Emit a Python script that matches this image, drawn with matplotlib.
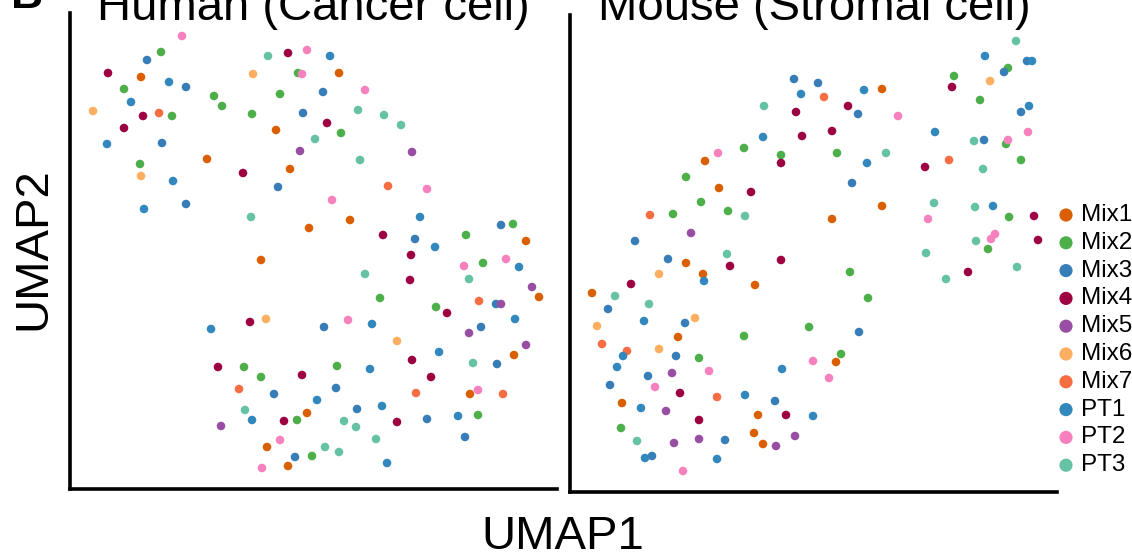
import matplotlib
matplotlib.use("Agg")
import matplotlib.pyplot as plt

plt.rcParams['font.family'] = ['Liberation Sans', 'DejaVu Sans']

groups = ["Mix1", "Mix2", "Mix3", "Mix4", "Mix5", "Mix6", "Mix7", "PT1", "PT2", "PT3"]
colors = ["#D95F02", "#4DAF4A", "#377EB8", "#9E0142", "#984EA3",
          "#FDAE61", "#F46D43", "#3288BD", "#F781BF", "#66C2A5"]

# UMAP embedding, human cancer cells (UMAP1, UMAP2)
human = {
    "Mix1": [(71, 412), (206, 359), (137, 330), (220, 320), (239, 261), (269, 416), (280, 269),
             (456, 248), (191, 229), (237, 76), (197, 42), (218, 23), (469, 192), (444, 134), (400, 95)],
    "Mix2": [(91, 437), (54, 400), (228, 416), (144, 393), (152, 383), (210, 395), (102, 373),
             (182, 375), (70, 325), (271, 356), (396, 254), (443, 265), (174, 122), (191, 112),
             (227, 69), (413, 226), (310, 191), (366, 182), (267, 123), (408, 74), (242, 33)],
    "Mix3": [(77, 429), (116, 402), (233, 376), (92, 346), (208, 302), (116, 285), (253, 397),
             (345, 250), (431, 264), (204, 95), (225, 32), (426, 185), (254, 162), (411, 162),
             (427, 125), (266, 101), (287, 80), (357, 70), (395, 52)],
    "Mix4": [(218, 436), (38, 416), (73, 373), (54, 361), (173, 316), (257, 366), (313, 254),
             (180, 167), (148, 122), (232, 114), (214, 68), (341, 234), (340, 209), (377, 176),
             (342, 129), (361, 112), (327, 67)],
    "Mix5": [(230, 338), (342, 337), (151, 63), (462, 202), (431, 185), (399, 156), (456, 144)],
    "Mix6": [(183, 415), (23, 378), (71, 313), (196, 170), (327, 148)],
    "Mix7": [(89, 376), (318, 303), (169, 100), (409, 188), (346, 96), (433, 95)],
    "PT1": [(99, 407), (61, 387), (37, 345), (103, 308), (74, 280), (260, 433), (350, 272),
            (365, 242), (141, 160), (182, 69), (449, 222), (445, 170), (302, 165), (369, 137),
            (300, 120), (247, 89), (312, 83), (388, 73), (317, 26)],
    "PT2": [(112, 453), (237, 439), (232, 415), (295, 399), (357, 300), (262, 289), (210, 49),
            (192, 21), (394, 223), (436, 230), (278, 169), (408, 99)],
    "PT3": [(198, 433), (181, 272), (288, 379), (314, 374), (331, 364), (245, 350), (290, 329),
            (175, 79), (295, 215), (399, 210), (403, 126), (274, 68), (286, 62), (306, 50),
            (255, 42), (269, 37)],
}

# UMAP embedding, mouse stromal cells (UMAP1, UMAP2)
mouse = {
    "Mix1": [(135, 331), (149, 304), (312, 403), (312, 286), (262, 273), (266, 130), (116, 229),
             (133, 218), (185, 207), (22, 199), (108, 155), (52, 89), (188, 77), (184, 59), (193, 48)],
    "Mix2": [(174, 344), (211, 337), (116, 315), (131, 290), (158, 281), (103, 278), (438, 424),
             (384, 416), (410, 392), (436, 348), (267, 339), (451, 332), (439, 275), (418, 243),
             (280, 220), (298, 194), (239, 165), (271, 138), (174, 156), (129, 134), (51, 64)],
    "Mix3": [(224, 413), (248, 409), (65, 251), (457, 431), (434, 420), (451, 380), (288, 378),
             (414, 352), (282, 309), (289, 160), (98, 233), (38, 183), (115, 169), (106, 136),
             (78, 116), (40, 107), (205, 91), (155, 52), (82, 36)],
    "Mix4": [(226, 380), (232, 356), (211, 329), (181, 300), (382, 405), (278, 386), (262, 361),
             (355, 325), (464, 276), (468, 252), (398, 220), (160, 226), (211, 232), (61, 208),
             (110, 99), (216, 77), (129, 72)],
    "Mix5": [(121, 259), (102, 119), (96, 81), (104, 49), (129, 53), (206, 46), (225, 56)],
    "Mix6": [(420, 411), (89, 218), (125, 174), (27, 166), (89, 143)],
    "Mix7": [(80, 277), (254, 395), (379, 332), (32, 148), (57, 141), (147, 95)],
    "PT1": [(231, 398), (193, 355), (415, 436), (462, 431), (459, 386), (294, 402), (365, 360),
            (297, 329), (423, 286), (243, 76), (134, 211), (74, 171), (53, 136), (47, 125),
            (212, 123), (175, 97), (71, 84), (75, 34), (147, 33)],
    "PT2": [(148, 339), (328, 376), (438, 352), (458, 360), (358, 273), (425, 258), (421, 253),
            (243, 131), (259, 114), (139, 121), (85, 105), (113, 21)],
    "PT3": [(194, 386), (175, 276), (446, 451), (404, 351), (316, 339), (413, 323), (364, 289),
            (405, 285), (406, 251), (356, 239), (376, 213), (447, 225), (157, 238), (45, 196),
            (79, 188), (67, 51)],
}

W, H = 1132, 552
fig = plt.figure(figsize=(W / 100, H / 100), dpi=100)

def panel(rect, data, ylim):
    ax = fig.add_axes(rect)
    for g, c in zip(groups, colors):
        pts = data[g]
        ax.scatter([p[0] for p in pts], [p[1] for p in pts], s=38, color=c,
                   edgecolors="none", zorder=3)
    ax.set_xlim(0, 487)
    ax.set_ylim(0, ylim)
    ax.set_xticks([])
    ax.set_yticks([])
    for side in ["top", "right"]:
        ax.spines[side].set_visible(False)
    for side in ["left", "bottom"]:
        ax.spines[side].set_linewidth(2.6)
    return ax

ax1 = panel([70 / W, 63 / H, 487 / W, 476 / H], human, 476)
ax2 = panel([570 / W, 60 / H, 487 / W, 477 / H], mouse, 477)

fig.text(313 / W, 1 - 20 / H, "Human (Cancer cell)", fontsize=34, ha="center", va="baseline")
fig.text(814 / W, 1 - 20 / H, "Mouse (Stromal cell)", fontsize=34, ha="center", va="baseline")
fig.text(11 / W, 1 - 8 / H, "B", fontsize=32, fontweight="bold", ha="left", va="baseline")
fig.text(563 / W, 3 / H, "UMAP1", fontsize=34, ha="center", va="baseline")
fig.text(33 / W, 1 - 249 / H, "UMAP2", fontsize=34, ha="center", va="center", rotation=90)

# legend drawn in its own axes, one row per group
lax = fig.add_axes([1058 / W, 0, 74 / W, 1])
lax.set_xlim(0, 74)
lax.set_ylim(H, 0)
lax.axis("off")
for i, (g, c) in enumerate(zip(groups, colors)):
    yy = 215 + 27.8 * i
    lax.scatter([8], [yy], s=90, color=c, edgecolors="none", clip_on=False)
    lax.text(23, yy, g, fontsize=17.5, va="center", ha="left")

fig.savefig("out.png", dpi=100)
